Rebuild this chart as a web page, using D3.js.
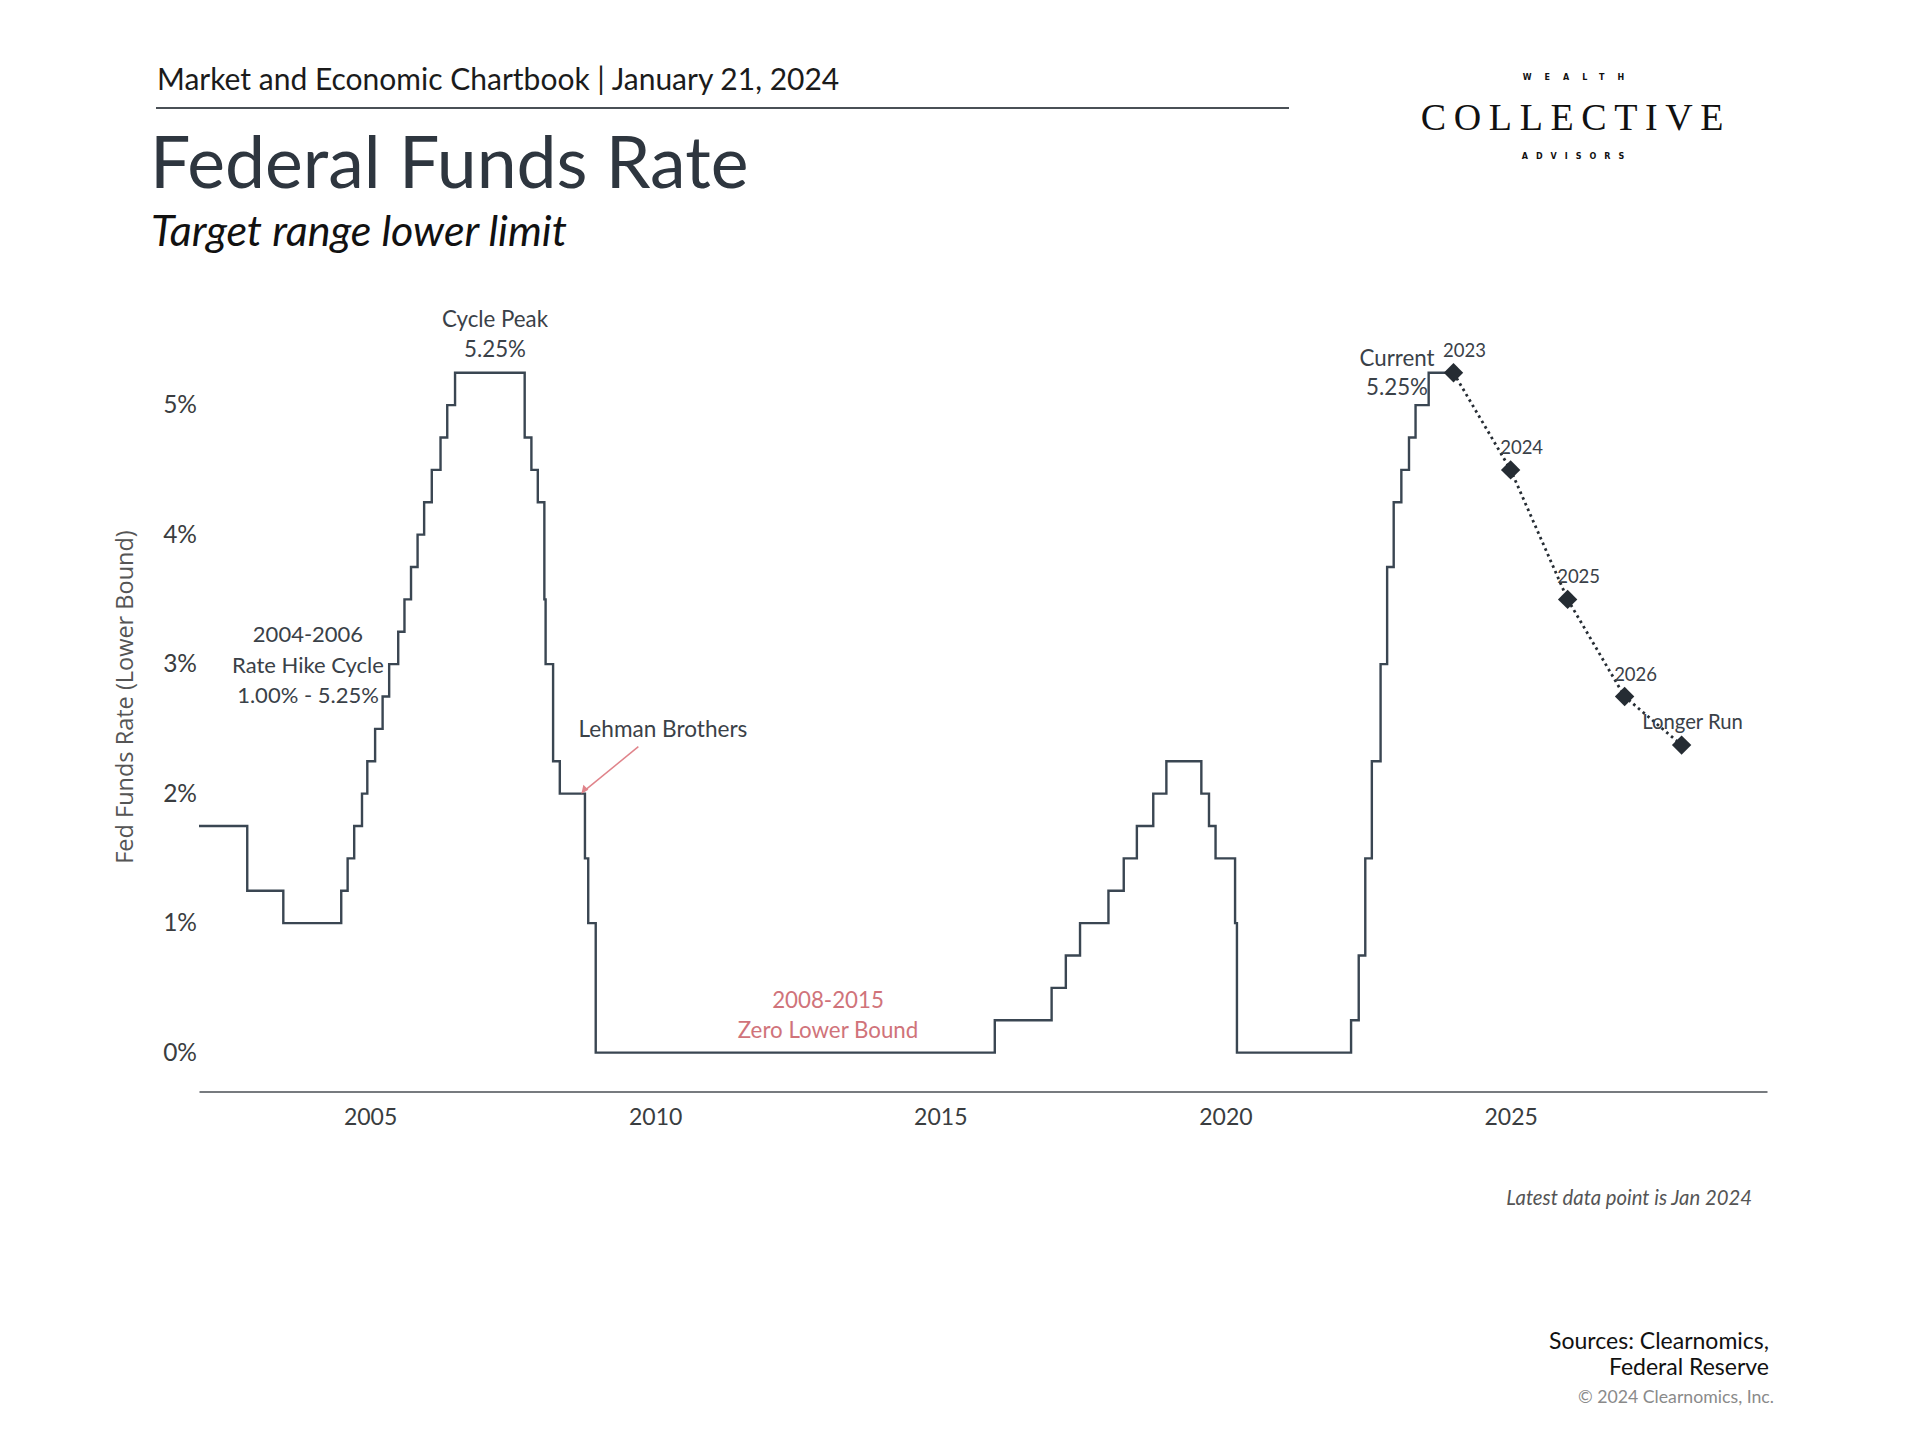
<!DOCTYPE html>
<html>
<head>
<meta charset="utf-8">
<script src="https://cdn.jsdelivr.net/npm/d3@7"></script>
<style>
  html, body { margin: 0; padding: 0; background: #fff; }
  svg { display: block; }
  text { font-family: "Lato", "Source Sans Pro", "Noto Sans", sans-serif; }
</style>
</head>
<body>
<svg id="chart" width="1920" height="1440"></svg>
<script>
// ---------------- DATA ----------------
// Dates at which the target-range lower limit changed, and the new level (%)
const changeDates = [
  "2002-01-01","2002-11-06","2003-06-25","2004-06-30","2004-08-10","2004-09-21","2004-11-10","2004-12-14",
  "2005-02-02","2005-03-22","2005-05-03","2005-06-30","2005-08-09","2005-09-20","2005-11-01","2005-12-13",
  "2006-01-31","2006-03-28","2006-05-10","2006-06-29","2007-09-18","2007-10-31","2007-12-11","2008-01-22",
  "2008-01-30","2008-03-18","2008-04-30","2008-10-08","2008-10-29","2008-12-16","2015-12-16","2016-12-14",
  "2017-03-15","2017-06-14","2017-12-13","2018-03-21","2018-06-13","2018-09-26","2018-12-19","2019-07-31",
  "2019-09-18","2019-10-30","2020-03-03","2020-03-15","2022-03-16","2022-05-04","2022-06-15","2022-07-27",
  "2022-09-21","2022-11-02","2022-12-14","2023-02-01","2023-03-22","2023-05-03","2023-07-26","2024-01-01"
];
const rateValues = [
  1.75,1.25,1.00,1.25,1.50,1.75,2.00,2.25,
  2.50,2.75,3.00,3.25,3.50,3.75,4.00,4.25,
  4.50,4.75,5.00,5.25,4.75,4.50,4.25,3.50,
  3.00,2.25,2.00,1.50,1.00,0.00,0.25,0.50,
  0.75,1.00,1.25,1.50,1.75,2.00,2.25,2.00,
  1.75,1.50,1.00,0.00,0.25,0.75,1.50,2.25,
  3.00,3.75,4.25,4.50,4.75,5.00,5.25,5.25
];
// FOMC projections (lower limit), plotted at start of following year
const projLabels = ["2023","2024","2025","2026","Longer Run"];
const projDates  = ["2024-01-01","2025-01-01","2026-01-01","2027-01-01","2028-01-01"];
const projValues = [5.25, 4.50, 3.50, 2.75, 2.375];

const xTickYears = [2005, 2010, 2015, 2020, 2025];
const yTickValues = [0, 1, 2, 3, 4, 5];

// ---------------- CHART ----------------
const parse = d3.timeParse("%Y-%m-%d");
const svg = d3.select("#chart");

const series = changeDates.map((d, i) => ({ date: parse(d), value: rateValues[i] }));
const proj = projDates.map((d, i) => ({ date: parse(d), value: projValues[i], label: projLabels[i] }));

const x = d3.scaleTime()
  .domain([parse("2002-01-01"), parse("2029-07-01")])
  .range([199, 1767]);
const y = d3.scaleLinear()
  .domain([-0.3, 5.5])
  .range([1091.5, 1091.5 - 5.8 * 129.5]);

// Header
svg.append("text").attr("x", 157).attr("y", 89.5)
  .attr("font-size", 30).attr("fill", "#1b1b1b")
  .text("Market and Economic Chartbook | January 21, 2024");
svg.append("line").attr("x1", 156).attr("x2", 1289).attr("y1", 108).attr("y2", 108)
  .attr("stroke", "#4a5056").attr("stroke-width", 2);
svg.append("text").attr("x", 150).attr("y", 187.5)
  .attr("font-size", 71.5).attr("fill", "#2e363f")
  .text("Federal Funds Rate");
svg.append("text").attr("x", 151).attr("y", 245.5)
  .attr("font-size", 43).attr("font-style", "italic").attr("fill", "#111")
  .text("Target range lower limit");

// Logo
const logo = svg.append("g").attr("text-anchor", "middle").attr("fill", "#111");
logo.append("text").attr("x", 1574 + 6).attr("y", 80)
  .attr("font-size", 8).attr("font-weight", "bold").attr("letter-spacing", 13)
  .style("font-family", "'DejaVu Sans', sans-serif").text("WEALTH");
logo.append("text").attr("x", 1574 + 2).attr("y", 130)
  .attr("font-size", 38).attr("letter-spacing", 7.6)
  .style("font-family", "'Liberation Serif', 'DejaVu Serif', serif").text("COLLECTIVE");
logo.append("text").attr("x", 1573 + 4).attr("y", 159)
  .attr("font-size", 8).attr("font-weight", "bold").attr("letter-spacing", 8)
  .style("font-family", "'DejaVu Sans', sans-serif").text("ADVISORS");

// Axes
const xAxis = d3.axisBottom(x)
  .tickValues(xTickYears.map(yv => new Date(yv, 0, 1)))
  .tickFormat(d3.timeFormat("%Y"))
  .tickSize(0).tickSizeOuter(0).tickPadding(17);
const gx = svg.append("g").attr("transform", `translate(0,${y(-0.3)})`).call(xAxis);
gx.select(".domain").attr("stroke", "#4a4f55").attr("stroke-width", 1.6);
gx.selectAll("text").attr("font-size", 23).attr("fill", "#3a3d40")
  .style("font-family", "Lato, sans-serif");

const yAxis = d3.axisLeft(y).tickValues(yTickValues)
  .tickFormat(d => d + "%").tickSize(0).tickPadding(2);
const gy = svg.append("g").attr("transform", "translate(199,0)").call(yAxis);
gy.select(".domain").remove();
gy.selectAll("text").attr("font-size", 24.5).attr("fill", "#3a3d40")
  .style("font-family", "Lato, sans-serif");

svg.append("text")
  .attr("transform", `translate(133,697) rotate(-90)`)
  .attr("text-anchor", "middle").attr("font-size", 23.5).attr("fill", "#555")
  .style("font-family", "'Open Sans', sans-serif")
  .text("Fed Funds Rate (Lower Bound)");

// Step line
const line = d3.line().x(d => x(d.date)).y(d => y(d.value)).curve(d3.curveStepAfter);
svg.append("path").datum(series).attr("d", line)
  .attr("fill", "none").attr("stroke", "#3a4652").attr("stroke-width", 2.4);

// Projection dotted line
const pline = d3.line().x(d => x(d.date)).y(d => y(d.value));
svg.append("path").datum(proj).attr("d", pline)
  .attr("fill", "none").attr("stroke", "#262d34").attr("stroke-width", 2.8)
  .attr("stroke-dasharray", "2.6,3.6");
svg.append("g").selectAll("path").data(proj).join("path")
  .attr("transform", d => `translate(${x(d.date)},${y(d.value)})`)
  .attr("d", d3.symbol(d3.symbolDiamond2, 240)())
  .attr("fill", "#252c33");
svg.append("g").selectAll("text").data(proj).join("text")
  .attr("x", d => x(d.date) + 11).attr("y", d => y(d.value) - 16)
  .attr("text-anchor", "middle").attr("font-size", d => d.label.length > 4 ? 20.3 : 18.5)
  .attr("fill", "#3a4148")
  .text(d => d.label);

// Annotations
function label(lines, cx, y0, dy, color, size) {
  const t = svg.append("text").attr("text-anchor", "middle")
    .attr("font-size", size || 22.3).attr("fill", color || "#3a4148");
  lines.forEach((s, i) => t.append("tspan").attr("x", cx).attr("y", y0 + i * dy).text(s));
}
label(["Cycle Peak", "5.25%"], 495, 326.5, 30.5);
label(["2004-2006", "Rate Hike Cycle", "1.00% - 5.25%"], 308, 642, 30.5, null, 22);
label(["Lehman Brothers"], 663, 736.5, 0, null, 22.6);
label(["2008-2015", "Zero Lower Bound"], 828, 1008, 29.5, "#d0737a");
label(["Current", "5.25%"], 1397, 365.5, 29.5);

// Lehman arrow
const lehmanDate = parse("2008-09-15");
const ax = x(lehmanDate), ay = y(2.0);
svg.append("line").attr("x1", ax + 57).attr("y1", ay - 47).attr("x2", ax + 2).attr("y2", ay - 2)
  .attr("stroke", "#e0838a").attr("stroke-width", 1.5);
svg.append("path")
  .attr("d", `M${ax},${ay} l2,-9 l5,5 z`)
  .attr("fill", "#e0838a");

// Footer texts
svg.append("text").attr("x", 1752).attr("y", 1205).attr("text-anchor", "end")
  .attr("font-size", 20.3).attr("font-style", "italic").attr("fill", "#555")
  .text("Latest data point is Jan 2024");
const src = svg.append("text").attr("text-anchor", "end").attr("font-size", 23).attr("fill", "#111");
src.append("tspan").attr("x", 1769).attr("y", 1349).text("Sources: Clearnomics,");
src.append("tspan").attr("x", 1769).attr("y", 1375).text("Federal Reserve");
svg.append("text").attr("x", 1774).attr("y", 1403).attr("text-anchor", "end")
  .attr("font-size", 17.7).attr("fill", "#8a8a8a")
  .text("© 2024 Clearnomics, Inc.");
</script>
</body>
</html>
